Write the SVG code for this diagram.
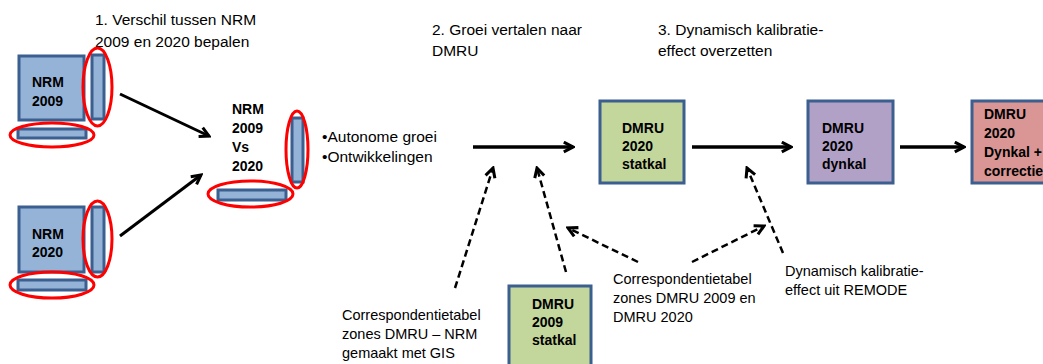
<svg xmlns="http://www.w3.org/2000/svg" width="1043" height="364" viewBox="0 0 1043 364">
<style>
text{font-family:"Liberation Sans",Arial,sans-serif;fill:#000}
.t{font-size:15.5px}
.s{font-size:14.5px}
.b{font-size:14px;font-weight:bold}
.blue{fill:#95b3d7;stroke:#3b5f8f;stroke-width:3}
.green{fill:#c3d69b;stroke:#3b5f8f;stroke-width:3}
.purple{fill:#b2a1c7;stroke:#3b5f8f;stroke-width:3}
.pink{fill:#d99694;stroke:#3b5f8f;stroke-width:3}
.red{fill:none;stroke:#ff0000;stroke-width:3}
.solid{stroke:#000;stroke-width:3.5;fill:none}
.diag{stroke:#000;stroke-width:3;fill:none}
.dash{stroke:#000;stroke-width:2.5;fill:none;stroke-dasharray:7 4}
</style>
<defs>
<marker id="arr" viewBox="0 0 12 12" markerWidth="13" markerHeight="13" refX="10" refY="6" orient="auto" markerUnits="userSpaceOnUse">
<path d="M1.5,1.5 L10,6 L1.5,10.5" fill="none" stroke="#000" stroke-width="2.8"/>
</marker>
</defs>
<rect width="1043" height="364" fill="#fff"/>

<g id="title1">
<text class="t" x="95" y="25">1. Verschil tussen NRM</text>
<text class="t" x="95" y="47">2009 en  2020 bepalen</text>
</g>
<g id="title2">
<text class="t" x="432" y="35">2. Groei vertalen naar</text>
<text class="t" x="432" y="56">DMRU</text>
</g>
<g id="title3">
<text class="t" x="658" y="35">3. Dynamisch kalibratie-</text>
<text class="t" x="658" y="56">effect overzetten</text>
</g>

<g id="nrm2009">
<rect class="blue" x="19" y="56" width="65" height="64"/>
<text class="b" x="32" y="87">NRM</text>
<text class="b" x="32" y="106">2009</text>
<rect class="blue" x="92" y="55" width="12" height="64"/>
<rect class="blue" x="18" y="129" width="68" height="9"/>
<ellipse class="red" cx="97.5" cy="87" rx="14.5" ry="39"/>
<ellipse class="red" cx="52" cy="135" rx="42" ry="12"/>
</g>

<g id="nrm2020">
<rect class="blue" x="19" y="207" width="65" height="65"/>
<text class="b" x="32" y="239">NRM</text>
<text class="b" x="32" y="257">2020</text>
<rect class="blue" x="92" y="207" width="12" height="65"/>
<rect class="blue" x="18" y="280" width="68" height="10"/>
<ellipse class="red" cx="97.5" cy="239" rx="14.5" ry="38"/>
<ellipse class="red" cx="52" cy="285" rx="42" ry="13"/>
</g>

<g id="nrmvs">
<text class="b" x="232" y="114">NRM</text>
<text class="b" x="232" y="133">2009</text>
<text class="b" x="232" y="152">Vs</text>
<text class="b" x="232" y="171">2020</text>
<rect class="blue" x="292" y="118" width="11" height="64"/>
<rect class="blue" x="218" y="190" width="68" height="10"/>
<ellipse class="red" cx="297" cy="149.5" rx="11" ry="38.5"/>
<ellipse class="red" cx="250.5" cy="194" rx="42.5" ry="13"/>
</g>

<g id="groei">
<text class="t" x="322" y="142">•Autonome groei</text>
<text class="t" x="322" y="162">•Ontwikkelingen</text>
</g>

<g id="dmru2020statkal">
<rect class="green" x="600" y="101" width="84" height="82"/>
<text class="b" x="622" y="133">DMRU</text>
<text class="b" x="622" y="151">2020</text>
<text class="b" x="622" y="169">statkal</text>
</g>

<g id="dmru2020dynkal">
<rect class="purple" x="808" y="101" width="85" height="82"/>
<text class="b" x="822" y="133">DMRU</text>
<text class="b" x="822" y="151">2020</text>
<text class="b" x="822" y="169">dynkal</text>
</g>

<g id="dmru2020correctie">
<rect class="pink" x="972" y="101" width="90" height="82"/>
<text class="b" x="984" y="119">DMRU</text>
<text class="b" x="984" y="138">2020</text>
<text class="b" x="984" y="157">Dynkal +</text>
<text class="b" x="984" y="176">correctie</text>
</g>

<g id="dmru2009statkal">
<rect class="green" x="509" y="286" width="82" height="90"/>
<text class="b" x="532" y="309">DMRU</text>
<text class="b" x="532" y="327">2009</text>
<text class="b" x="532" y="345">statkal</text>
</g>

<g id="label_gis">
<text class="s" x="342" y="320">Correspondentietabel</text>
<text class="s" x="342" y="339">zones DMRU – NRM</text>
<text class="s" x="342" y="358">gemaakt met GIS</text>
</g>

<g id="label_dmru">
<text class="s" x="613" y="284">Correspondentietabel</text>
<text class="s" x="613" y="303">zones DMRU 2009 en</text>
<text class="s" x="613" y="322">DMRU 2020</text>
</g>

<g id="label_remode">
<text class="s" x="785" y="276">Dynamisch kalibratie-</text>
<text class="s" x="785" y="295">effect uit REMODE</text>
</g>

<g id="connectors">
<line class="diag" x1="120" y1="94" x2="209" y2="136" marker-end="url(#arr)"/>
<line class="diag" x1="120" y1="236" x2="201" y2="175" marker-end="url(#arr)"/>
<line class="solid" x1="473" y1="147" x2="573" y2="147" marker-end="url(#arr)"/>
<line class="solid" x1="692" y1="147" x2="791" y2="147" marker-end="url(#arr)"/>
<line class="solid" x1="900" y1="147" x2="964" y2="147" marker-end="url(#arr)"/>
<line class="dash" x1="455" y1="288" x2="493" y2="168" marker-end="url(#arr)"/>
<line class="dash" x1="566" y1="272" x2="537" y2="168" marker-end="url(#arr)"/>
<line class="dash" x1="638" y1="262" x2="568" y2="228" marker-end="url(#arr)"/>
<line class="dash" x1="692" y1="262" x2="764" y2="226" marker-end="url(#arr)"/>
<line class="dash" x1="783" y1="253" x2="747" y2="168" marker-end="url(#arr)"/>
</g>
</svg>
